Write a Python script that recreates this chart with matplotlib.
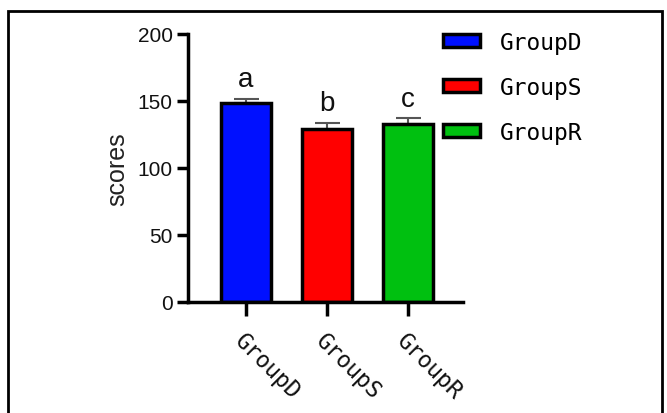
import matplotlib
matplotlib.use("Agg")
import matplotlib.pyplot as plt
from matplotlib.patches import Rectangle, Patch

groups = ["GroupD", "GroupS", "GroupR"]
means = [148.5, 129.0, 132.5]
errors = [3.0, 4.5, 4.5]
letters = ["a", "b", "c"]
colors = ["#0010ff", "#ff0000", "#00c010"]
yticks = [0, 50, 100, 150, 200]

W, H = 667, 414
fig = plt.figure(figsize=(W / 100, H / 100), dpi=100)
ax = fig.add_axes([188 / W, 1 - 303 / H, (463 - 188) / W, (303 - 35) / H])

x = list(range(len(groups)))
ax.bar(x, means, width=0.62, color=colors, edgecolor="black", linewidth=2.5, zorder=2)
ax.errorbar(x, means, yerr=[[0] * len(errors), errors], fmt="none", ecolor="#555555",
            elinewidth=1.5, capsize=9, capthick=1.5, zorder=1)
for xi, m, e, l in zip(x, means, errors, letters):
    ax.text(xi, m + e + 5, l, ha="center", va="bottom", fontsize=20,
            family="Liberation Sans", color="#111111")

ax.set_xlim(-0.716, 2.68)
ax.set_ylim(0, 200)
ax.set_yticks(yticks)
ax.set_yticklabels([str(v) for v in yticks], family="Liberation Sans", fontsize=15, color="#111111")
ax.set_xticks(x)
ax.set_xticklabels(groups, rotation=-45, ha="left", va="top", rotation_mode="anchor",
                   family="DejaVu Sans Mono", fontsize=16.5, color="#111111")
ax.tick_params(axis="y", direction="out", length=8, width=2.5, pad=3)
ax.tick_params(axis="x", direction="out", length=10, width=2.5, pad=9)
for s in ["top", "right"]:
    ax.spines[s].set_visible(False)
for s in ["left", "bottom"]:
    ax.spines[s].set_linewidth(2.5)
ax.set_ylabel("scores", family="Liberation Sans", fontsize=18, color="#222222", labelpad=6)

handles = [Patch(facecolor=c, edgecolor="black", linewidth=2.5) for c in colors]
leg = fig.legend(handles, groups, loc="upper left", bbox_to_anchor=(443 / W, 1 - 32 / H),
                 frameon=False, prop={"family": "DejaVu Sans Mono", "size": 16.5},
                 handlelength=1.6, handleheight=0.5, labelspacing=0.95, handletextpad=0.9,
                 borderpad=0, borderaxespad=0)

fig.patches.append(Rectangle((8 / W, -0.1), (662 - 8) / W, 1.1 - 12 / H, transform=fig.transFigure,
                             fill=False, edgecolor="black", linewidth=2))

fig.savefig("out.png", dpi=100)
